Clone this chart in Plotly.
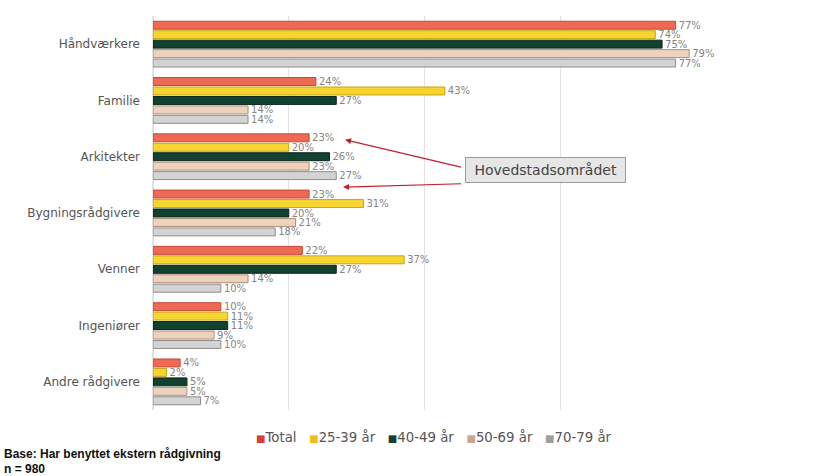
import plotly.graph_objects as go

categories = ["Håndværkere", "Familie", "Arkitekter", "Bygningsrådgivere",
              "Venner", "Ingeniører", "Andre rådgivere"]
series_names = ["Total", "25-39 år", "40-49 år", "50-69 år", "70-79 år"]
total = [77, 24, 23, 23, 22, 10, 4]
age_25_39 = [74, 43, 20, 31, 37, 11, 2]
age_40_49 = [75, 27, 26, 20, 27, 11, 5]
age_50_69 = [79, 14, 23, 21, 14, 9, 5]
age_70_79 = [77, 14, 27, 18, 10, 10, 7]
series_values = [total, age_25_39, age_40_49, age_50_69, age_70_79]

fill_colors = ["#EE6A55", "#F6D531", "#12412F", "#EDD3BE", "#D3D3D3"]
edge_colors = ["#C9472F", "#C9A414", "#08261A", "#B08F77", "#8E8E8E"]
legend_colors = ["#D9403A", "#E9BE1E", "#12412F", "#C9A690", "#9E9E9E"]

fig = go.Figure()
for name, vals, fc, ec in zip(series_names, series_values, fill_colors, edge_colors):
    fig.add_trace(go.Bar(
        y=categories, x=vals, name=name, orientation="h",
        marker=dict(color=fc, line=dict(color=ec, width=1)),
        text=[f"{v}%" for v in vals], textposition="outside",
        textfont=dict(family="DejaVu Sans", size=10, color="#858585"),
        constraintext="none", cliponaxis=False, showlegend=False,
    ))

fig.update_layout(
    width=817, height=476,
    margin=dict(l=153, r=121, t=16, b=66),
    paper_bgcolor="white", plot_bgcolor="white",
    barmode="group", bargap=0.16, bargroupgap=0.16,
    font=dict(family="DejaVu Sans", size=12, color="#555555"),
    showlegend=False,
    xaxis=dict(range=[0, 80], dtick=20, showgrid=True, gridcolor="#e2e2e2",
               showticklabels=False, zeroline=True, zerolinecolor="#e2e2e2",
               showline=False, fixedrange=True),
    yaxis=dict(autorange="reversed", showgrid=False, ticks="", ticklabelstandoff=12,
               tickfont=dict(family="DejaVu Sans", size=12, color="#555555")),
)

# legend built from the series names and colours
legend_parts = [f"<span style='color:{c};font-size:10px'>■</span>{n}"
                for n, c in zip(series_names, legend_colors)]
fig.add_annotation(x=0.186, y=-0.0685, xref="paper", yref="paper", xanchor="left",
                   yanchor="middle", showarrow=False,
                   text="&nbsp;&nbsp;&nbsp;".join(legend_parts),
                   font=dict(family="DejaVu Sans", size=13.3, color="#555555"))

arrow_color = "#C0202A"
# arrows from callout box to the 'Total' labels
fig.add_annotation(x=28.3, y=1.70, ax=45.6, ay=2.19, xref="x", yref="y",
                   axref="x", ayref="y", text="", showarrow=True,
                   arrowhead=2, arrowsize=1, arrowwidth=1.2, arrowcolor=arrow_color)
fig.add_annotation(x=28.0, y=2.54, ax=45.6, ay=2.48, xref="x", yref="y",
                   axref="x", ayref="y", text="", showarrow=True,
                   arrowhead=2, arrowsize=1, arrowwidth=1.2, arrowcolor=arrow_color)
fig.add_annotation(x=57.8, y=2.23, xref="x", yref="y",
                   text="&nbsp;Hovedstadsområdet&nbsp;",
                   showarrow=False, bgcolor="#e6e6e6", bordercolor="#9a9a9a",
                   borderwidth=1, borderpad=4,
                   font=dict(family="DejaVu Sans", size=14, color="#444444"))

fig.add_annotation(x=-0.278, y=-0.1117, xref="paper", yref="paper", xanchor="left",
                   yanchor="middle", align="left", showarrow=False,
                   text="<b>Base: Har benyttet ekstern rådgivning</b>",
                   font=dict(family="Liberation Sans", size=12, color="#111111"))
fig.add_annotation(x=-0.278, y=-0.1510, xref="paper", yref="paper", xanchor="left",
                   yanchor="middle", align="left", showarrow=False,
                   text="<b>n = 980</b>",
                   font=dict(family="Liberation Sans", size=12, color="#111111"))

fig.write_html("out.html", config={"displayModeBar": False},
               post_script="document.body.style.margin='0';")
